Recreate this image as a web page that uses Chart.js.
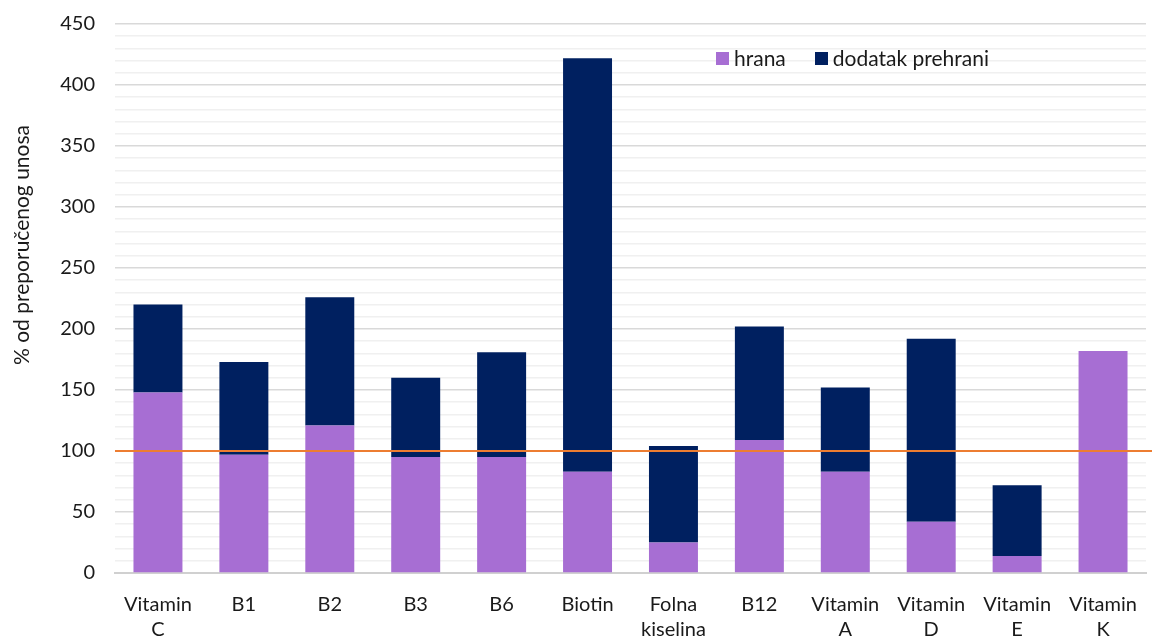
<!DOCTYPE html>
<html>
<head>
<meta charset="utf-8">
<script src="https://cdn.jsdelivr.net/npm/chart.js@4"></script>
<style>
  body { margin: 0; background: #fff; }
  #wrap { position: relative; width: 1152px; height: 637px; }
  #legend { position: absolute; left: 716px; top: 44px; font-family: Lato, "Noto Sans", sans-serif; font-size: 21px; line-height: 28px; color: #1a1a1a; display: flex; gap: 29px; }
  #legend span.item { display: flex; align-items: center; }
  #legend i { display: inline-block; width: 13px; height: 13px; margin-right: 5px; }
</style>
</head>
<body>
<div id="wrap">
  <canvas id="vitaminGraph"></canvas>
  <div id="legend"></div>
</div>
<script>
// categories
const labels = [['Vitamin', 'C'], 'B1', 'B2', 'B3', 'B6', 'Biotin', ['Folna', 'kiselina'], 'B12', ['Vitamin', 'A'], ['Vitamin', 'D'], ['Vitamin', 'E'], ['Vitamin', 'K']];

// series
const hrana = [148, 97, 121, 95, 95, 83, 25, 109, 83, 42, 14, 182];
const dodatak = [72, 76, 105, 65, 86, 339, 79, 93, 69, 150, 58, 0];

const seriesNames = ['hrana', 'dodatak prehrani'];
const seriesColors = ['#A76ED3', '#002060'];
const yTitle = '% od preporučenog unosa';

// preporučeni unos
const refLine = 100;

const fontFamily = 'Lato, "Noto Sans", sans-serif';

// orange line at 100 %, runs to the right edge of the canvas
const refLinePlugin = {
  id: 'refLine',
  afterDatasetsDraw(chart) {
    const { ctx, chartArea, scales } = chart;
    const y = scales.y.getPixelForValue(refLine);
    ctx.save();
    ctx.strokeStyle = '#ED7D31';
    ctx.lineWidth = 1.8;
    ctx.beginPath();
    ctx.moveTo(chartArea.left, y);
    ctx.lineTo(chart.width, y);
    ctx.stroke();
    ctx.restore();
  }
};

// y title sits a bit above the middle, like in the excel original
const yTitlePlugin = {
  id: 'yTitle',
  afterDraw(chart) {
    const ctx = chart.ctx;
    ctx.save();
    ctx.translate(22, 245);
    ctx.rotate(-Math.PI / 2);
    ctx.font = '21px ' + fontFamily;
    ctx.fillStyle = '#1a1a1a';
    ctx.textAlign = 'center';
    ctx.textBaseline = 'middle';
    ctx.fillText(yTitle, 0, 0);
    ctx.restore();
  }
};

const ctxVitamin = document.getElementById('vitaminGraph');

new Chart(ctxVitamin, {
  type: 'bar',
  data: {
    labels: labels,
    datasets: [
      { label: seriesNames[0], data: hrana, backgroundColor: seriesColors[0], barPercentage: 0.57, categoryPercentage: 1 },
      { label: seriesNames[1], data: dodatak, backgroundColor: seriesColors[1], barPercentage: 0.57, categoryPercentage: 1 }
    ]
  },
  options: {
    responsive: true,
    maintainAspectRatio: false,
    animation: false,
    layout: { padding: { top: 0, right: 6 } },
    plugins: {
      legend: { display: false },
      tooltip: { enabled: false }
    },
    scales: {
      x: {
        stacked: true,
        grid: { display: false },
        border: { color: '#d0d0d0', width: 2 },
        ticks: { color: '#1a1a1a', font: { family: fontFamily, size: 20, lineHeight: 1.25 }, padding: 11, maxRotation: 0, autoSkip: false },
        afterFit(scale) { scale.height = 64; }
      },
      y: {
        stacked: true,
        min: 0,
        max: 450,
        border: { display: false },
        grid: {
          drawTicks: false,
          color: (c) => (c.tick && c.tick.value % 50 === 0) ? '#d9d9d9' : '#f0f0f0',
          lineWidth: 1.5
        },
        ticks: {
          stepSize: 10,
          autoSkip: false,
          padding: 20,
          color: '#1a1a1a',
          // small lineHeight keeps the plot top at ~24px
          font: { family: fontFamily, size: 20, lineHeight: 0.4 },
          callback: (v) => v % 50 === 0 ? v : ''
        },
        afterFit(scale) { scale.width = 115; }
      }
    }
  },
  plugins: [refLinePlugin, yTitlePlugin]
});

// legend drawn as html text inside the plot
const legendEl = document.getElementById('legend');
seriesNames.forEach((name, i) => {
  const item = document.createElement('span');
  item.className = 'item';
  item.innerHTML = '<i style="background:' + seriesColors[i] + '"></i>' + name;
  legendEl.appendChild(item);
});
</script>
</body>
</html>
